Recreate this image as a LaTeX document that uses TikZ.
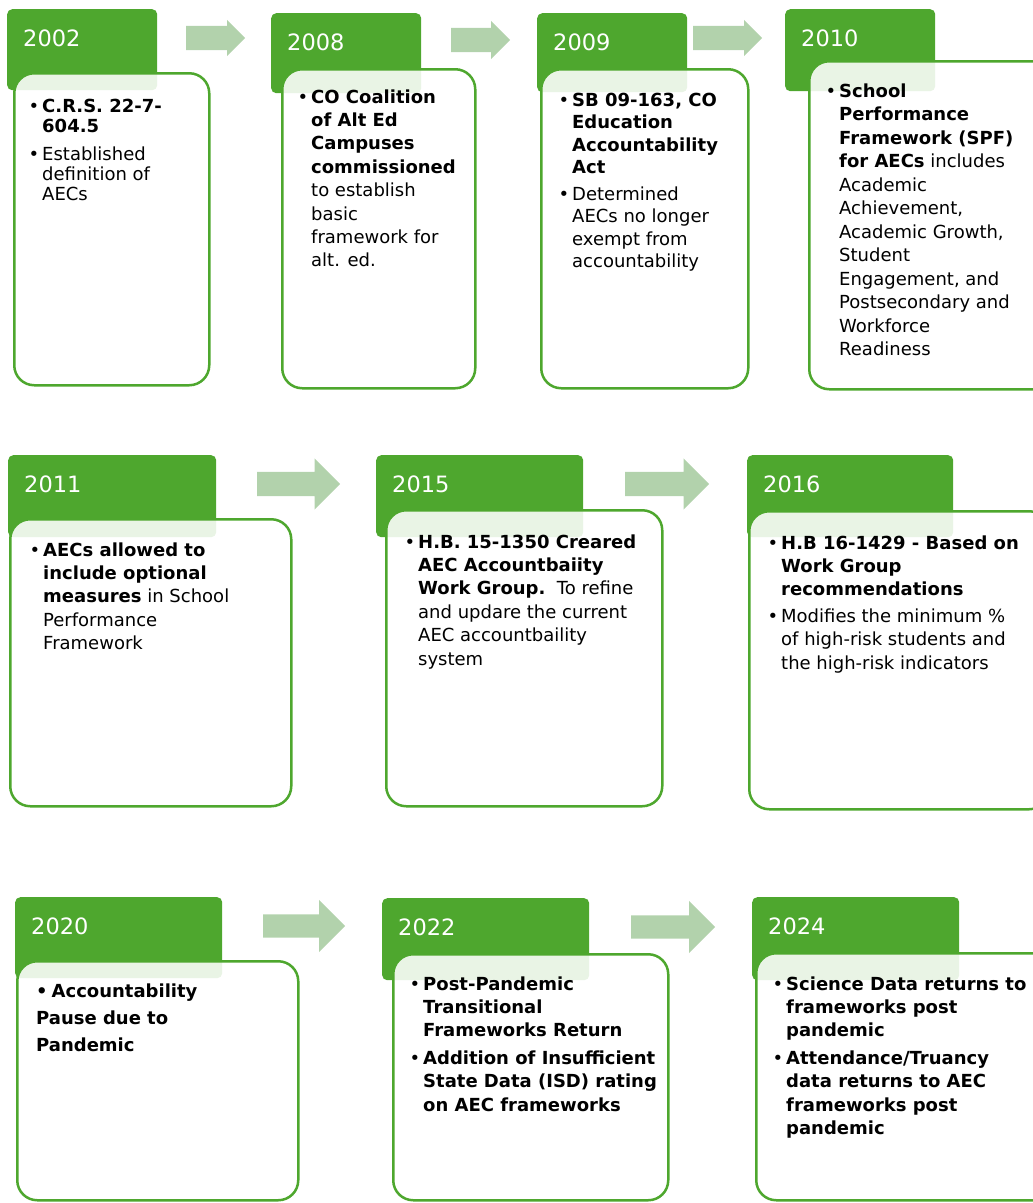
\documentclass[tikz,border=0pt]{standalone}
\usepackage{fontspec}
\setmainfont{DejaVu Sans}
\usetikzlibrary{shapes.arrows}

\definecolor{yeargreen}{RGB}{78,167,46}
\definecolor{arrowgreen}{RGB}{178,210,172}

\newcommand{\bpt}{\llap{\textbullet\hspace{3pt}}}
\newcommand{\lines}[1]{\begin{tabular}[t]{@{}l@{}}#1\end{tabular}}

\begin{document}
\begin{tikzpicture}[x=1pt, y=1pt,
    head/.style={rectangle, fill=yeargreen, rounded corners=5pt, anchor=north west, inner sep=0pt},
    card/.style={rectangle, draw=yeargreen, line width=2.5pt, fill=white, fill opacity=0.88, rounded corners=20pt, anchor=north west, inner sep=0pt},
    year/.style={anchor=base west, text=white, font=\fontsize{22.5}{27}\selectfont, inner sep=0pt},
    note/.style={anchor=base west, inner sep=0pt, font=\fontsize{18}{23.4}\selectfont},
    flow/.style={single arrow, fill=arrowgreen, anchor=tail, inner sep=12pt, single arrow head extend=6pt, minimum height=#1}
]
\useasboundingbox (0,0) rectangle (1033,-1203);
\clip (0,0) rectangle (1033,-1203);

% year tabs
\node[head, minimum width=150pt, minimum height=81pt] (h2002) at (7,-9) {};
\node[head, minimum width=150pt, minimum height=80pt] (h2008) at (271,-13) {};
\node[head, minimum width=150pt, minimum height=79pt] (h2009) at (537,-13) {};
\node[head, minimum width=150pt, minimum height=82pt] (h2010) at (785,-9) {};
\node[head, minimum width=208pt, minimum height=82pt] (h2011) at (8,-455) {};
\node[head, minimum width=207pt, minimum height=82pt] (h2015) at (376,-455) {};
\node[head, minimum width=206pt, minimum height=82pt] (h2016) at (747,-455) {};
\node[head, minimum width=207pt, minimum height=81pt] (h2020) at (15,-897) {};
\node[head, minimum width=207pt, minimum height=82pt] (h2022) at (382,-898) {};
\node[head, minimum width=207pt, minimum height=83pt] (h2024) at (752,-897) {};

% cards
\node[card, minimum width=195pt, minimum height=312pt] (b2002) at (13,-72) {};
\node[card, minimum width=193pt, minimum height=319pt] (b2008) at (281,-68) {};
\node[card, minimum width=207pt, minimum height=319pt] (b2009) at (540,-68) {};
\node[card, minimum width=250pt, minimum height=328pt] (b2010) at (808,-60) {};
\node[card, minimum width=281pt, minimum height=287pt] (b2011) at (9,-518) {};
\node[card, minimum width=276pt, minimum height=296pt] (b2015) at (385,-509) {};
\node[card, minimum width=300pt, minimum height=298pt] (b2016) at (748,-510) {};
\node[card, minimum width=281pt, minimum height=239pt] (b2020) at (16,-960) {};
\node[card, minimum width=275pt, minimum height=246pt] (b2022) at (392,-953) {};
\node[card, minimum width=300pt, minimum height=247pt] (b2024) at (755,-952) {};

% years
\foreach \yr in {2002,2008,2009,2010,2011,2015,2016,2020,2022,2024}
    \node[year] (y\yr) at ([shift={(16,-37)}]h\yr.north west) {\yr};

% arrows
\node[flow=59pt] (a1) at (186,-38) {};
\node[flow=59pt, single arrow head extend=7pt] (a2) at (451,-40) {};
\node[flow=69pt] (a3) at (693,-38) {};
\node[flow=83pt, single arrow head extend=13.5pt] (a4) at (257,-484) {};
\node[flow=84pt, single arrow head extend=13.5pt] (a5) at (625,-484) {};
\node[flow=82pt, inner sep=11.5pt, single arrow head extend=14.5pt] (a6) at (263,-926) {};
\node[flow=84pt, inner sep=11.5pt, single arrow head extend=14.5pt] (a7) at (631,-927) {};

% texts
\node[note, font=\fontsize{18}{20}\selectfont] (t2002) at (42,-112)
    {\lines{\bpt\textbf{C.R.S. 22-7-}\\ \textbf{604.5}\\[8pt] \bpt Established\\ definition of\\ AECs}};
\node[note] (t2008) at (311,-103)
    {\lines{\bpt\textbf{CO Coalition}\\ \textbf{of Alt Ed}\\ \textbf{Campuses}\\ \textbf{commissioned}\\ to establish\\ basic\\ framework for\\ alt. ed.}};
\node[note, font=\fontsize{18}{22.5}\selectfont] (t2009) at (572,-106)
    {\lines{\bpt\textbf{SB 09-163, CO}\\ \textbf{Education}\\ \textbf{Accountability}\\ \textbf{Act}\\[4pt] \bpt Determined\\ AECs no longer\\ exempt from\\ accountability}};
\node[note, font=\fontsize{18}{23.5}\selectfont] (t2010) at (839,-97)
    {\lines{\bpt\textbf{School}\\ \textbf{Performance}\\ \textbf{Framework (SPF)}\\ \textbf{for AECs} includes\\ Academic\\ Achievement,\\ Academic Growth,\\ Student\\ Engagement, and\\ Postsecondary and\\ Workforce\\ Readiness}};
\node[note] (t2011) at (43,-556)
    {\lines{\bpt\textbf{AECs allowed to}\\ \textbf{include optional}\\ \textbf{measures} in School\\ Performance\\ Framework}};
\node[note] (t2015) at (418,-548)
    {\lines{\bpt\textbf{H.B. 15-1350 Creared}\\ \textbf{AEC Accountbaiity}\\ \textbf{Work Group.}\ \ To refine\\ and updare the current\\ AEC accountbaility\\ system}};
\node[note] (t2016) at (781,-549)
    {\lines{\bpt\textbf{H.B 16-1429 - Based on}\\ \textbf{Work Group}\\ \textbf{recommendations}\\[3pt] \bpt Modifies the minimum \%\\ of high-risk students and\\ the high-risk indicators}};
\node[note, font=\fontsize{18}{27}\selectfont] (t2020) at (36,-997)
    {\lines{\textbf{\textbullet\hspace{4pt}Accountability}\\ \textbf{Pause due to}\\ \textbf{Pandemic}}};
\node[note] (t2022) at (423,-990)
    {\lines{\bpt\textbf{Post-Pandemic}\\ \textbf{Transitional}\\ \textbf{Frameworks Return}\\[4pt] \bpt\textbf{Addition of Insufficient}\\ \textbf{State Data (ISD) rating}\\ \textbf{on AEC frameworks}}};
\node[note] (t2024) at (786,-990)
    {\lines{\bpt\textbf{Science Data returns to}\\ \textbf{frameworks post}\\ \textbf{pandemic}\\[4pt] \bpt\textbf{Attendance/Truancy}\\ \textbf{data returns to AEC}\\ \textbf{frameworks post}\\ \textbf{pandemic}}};

\end{tikzpicture}
\end{document}
